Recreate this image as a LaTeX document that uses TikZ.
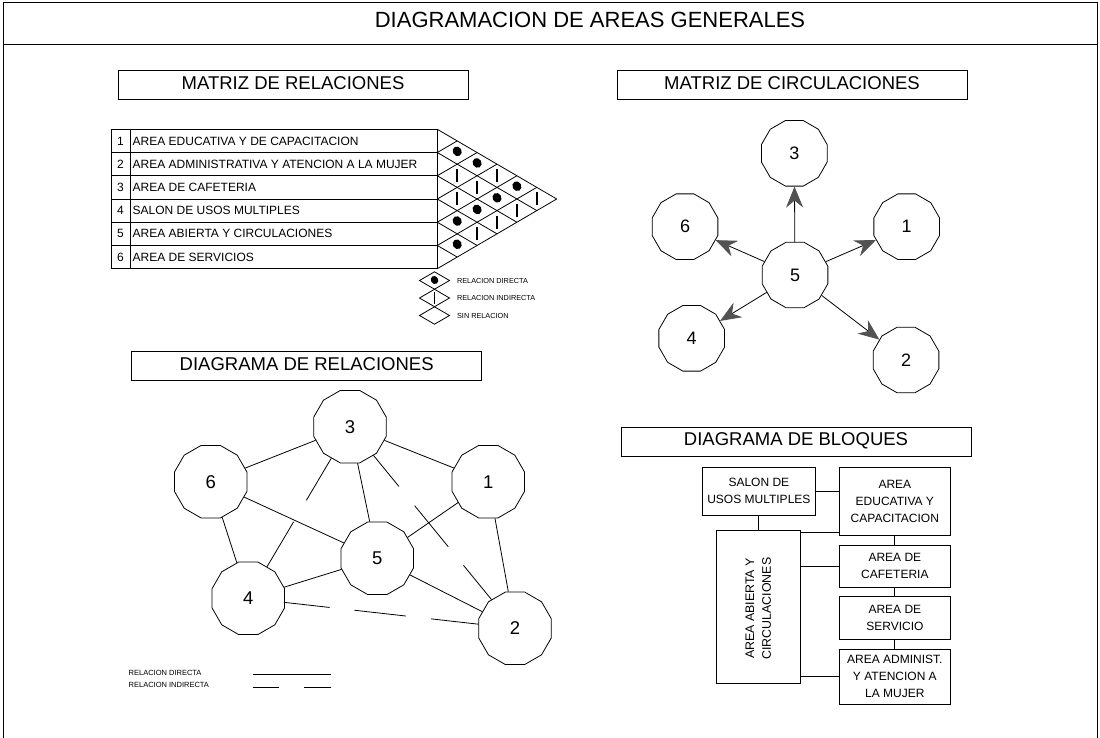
\documentclass[tikz,border=0pt]{standalone}
\usepackage{fontspec}
\setmainfont{Liberation Sans}
\usetikzlibrary{shapes.geometric,arrows.meta,calc}
\tikzset{
  subbox/.style={draw, line width=0.9pt, minimum width=350pt, minimum height=29pt, inner sep=0pt, text height=13.3pt, text depth=4.5pt, font=\fontsize{18.5}{20}\selectfont},
  relnode/.style={draw, regular polygon, regular polygon sides=12, minimum size=75pt, inner sep=0pt, line width=0.8pt, font=\fontsize{18.5}{20}\selectfont},
  circnode/.style={draw, regular polygon, regular polygon sides=12, minimum size=68pt, inner sep=0pt, line width=0.8pt, font=\fontsize{18}{20}\selectfont},
  tabtxt/.style={inner sep=0pt, font=\fontsize{12}{14}\selectfont},
  blk/.style={draw, line width=0.9pt, inner sep=0pt, align=center, font=\fontsize{12}{17}\selectfont},
  legtxt/.style={inner sep=0pt, anchor=west, font=\fontsize{7.3}{8}\selectfont},
  circarrow/.style={line width=0.8pt, -{Stealth[length=21pt, width=17pt, inset=7pt, fill=black!68, color=black!68]}},
  dotsym/.style={fill=black},
  barsym/.style={line width=2.2pt}
}
\begin{document}
\begin{tikzpicture}[x=1pt, y=-1pt, line width=0.8pt]
\useasboundingbox (0,0) rectangle (1100,738);
% frame and title band
\draw[line width=1pt] (3,738) -- (3,3) -- (1097,3) -- (1097,738);
\draw[line width=1pt] (3,44.3) -- (1097,44.3);
\node[inner sep=0pt, font=\fontsize{22}{24}\selectfont] (title) at (590,20) {DIAGRAMACION DE AREAS GENERALES};

% section headers
\node[subbox] (hmr) at (293,85) {MATRIZ DE RELACIONES};
\node[subbox] (hmc) at (792,85) {MATRIZ DE CIRCULACIONES};
\node[subbox] (hdr) at (306.7,365.8) {DIAGRAMA DE RELACIONES};
\node[subbox] (hdb) at (796,441.5) {DIAGRAMA DE BLOQUES};

% ---------- matriz de relaciones ----------
\draw (111,129.3) rectangle (437.3,268.7);
\draw (130,129.3) -- (130,268.7);
\foreach \k in {1,...,5} \draw (111,{129.3+\k*23.23}) -- (437.3,{129.3+\k*23.23});
\foreach \n/\t in {1/{AREA EDUCATIVA Y DE CAPACITACION},2/{AREA ADMINISTRATIVA Y ATENCION A LA MUJER},3/{AREA DE CAFETERIA},4/{SALON DE USOS MULTIPLES},5/{AREA ABIERTA Y CIRCULACIONES},6/{AREA DE SERVICIOS}}{
  \pgfmathsetmacro\yy{129.3+(\n-0.5)*23.23}
  \node[tabtxt] (num\n) at (120.5,\yy) {\n};
  \node[tabtxt, anchor=west] (lab\n) at (132.3,\yy) {\t};
}
% triangle grid
\foreach \k in {0,...,5} \draw (437.3,{129.3+\k*23.23}) -- ({437.3+(6-\k)*19.9},{129.3+(6+\k)/2*23.23});
\foreach \k in {1,...,6} \draw (437.3,{129.3+\k*23.23}) -- ({437.3+\k*19.9},{129.3+\k/2*23.23});
% symbols
\foreach \i/\j in {1/2,1/3,4/5,5/6,3/5,2/5,1/5}{
  \pgfmathsetmacro\cx{437.3+(\j-\i)*19.9}
  \pgfmathsetmacro\cy{129.3+(\i+\j-1)*11.615-1.2}
  \fill[dotsym, rotate around={30:(\cx,\cy)}] (\cx,\cy) ellipse [x radius=4.4pt, y radius=5pt];
}
\foreach \i/\j in {2/3,3/4,2/4,4/6,1/4,3/6,2/6,1/6}{
  \pgfmathsetmacro\cx{437.3+(\j-\i)*19.9}
  \pgfmathsetmacro\cy{129.3+(\i+\j-1)*11.615}
  \draw[barsym] (\cx,{\cy-6.5}) -- (\cx,{\cy+6.5});
}
% legend of matrix
\foreach \c/\yy in {a/280.5,b/298,c/315.5}{
  \draw (419.5,\yy) -- (434.5,{\yy-8.7}) -- (449.5,\yy) -- (434.5,{\yy+8.7}) -- cycle;
}
\fill[dotsym, rotate around={30:(434.5,280)}] (434.5,280) ellipse [x radius=3.6pt, y radius=4.2pt];
\draw[line width=1.2pt] (434.5,291.5) -- (434.5,303.5);
\node[legtxt] (lmd) at (456.7,280.5) {RELACION DIRECTA};
\node[legtxt] (lmi) at (456.7,298) {RELACION INDIRECTA};
\node[legtxt] (lms) at (456.7,315.5) {SIN RELACION};

% ---------- matriz de circulaciones ----------
\node[circnode] (m3) at (794.3,153.3) {3};
\node[circnode] (m6) at (685,226.7) {6};
\node[circnode] (m1) at (906.7,226.7) {1};
\node[circnode] (m5) at (795,275) {5};
\node[circnode] (m4) at (691.7,338.3) {4};
\node[circnode] (m2) at (906,360) {2};
\foreach \t in {3,6,1,4,2} \draw[circarrow] (m5) -- (m\t);

% ---------- diagrama de relaciones ----------
\node[relnode] (r3) at (350,426.7) {3};
\node[relnode] (r6) at (210.7,481.7) {6};
\node[relnode] (r1) at (488.3,481.7) {1};
\node[relnode] (r5) at (377.3,558.3) {5};
\node[relnode] (r4) at (248.3,598.3) {4};
\node[relnode] (r2) at (515,628.3) {2};
\foreach \a/\b in {3/6,3/1,3/5,6/5,6/4,4/5,5/1,5/2,1/2} \draw (r\a) -- (r\b);
\draw[dash pattern=on 49pt off 25pt on 60pt] (r3) -- (r4);
\draw[dash pattern=on 40pt off 25pt on 53pt off 24pt on 60pt] (r3) -- (r2);
\draw[dash pattern=on 45pt off 25pt on 52pt off 25pt on 60pt] (r4) -- (r2);
% legend
\node[legtxt, font=\fontsize{7.5}{8}\selectfont] (lrd) at (128.3,673.3) {RELACION DIRECTA};
\node[legtxt, font=\fontsize{7.5}{8}\selectfont] (lri) at (128.3,685.3) {RELACION INDIRECTA};
\draw (252.7,674.3) -- (330.7,674.3);
\draw[dash pattern=on 26.3pt off 25.4pt] (252.7,687.3) -- (330.7,687.3);

% ---------- diagrama de bloques ----------
\node[blk, minimum width=112.3pt, minimum height=47.7pt] (salon) at (758.85,491.15) {SALON DE\\USOS MULTIPLES};
\node[blk, minimum width=111.7pt, minimum height=67.7pt] (edu) at (894.85,501.15) {AREA\\EDUCATIVA Y\\CAPACITACION};
\node[blk, minimum width=111.7pt, minimum height=42.3pt] (cafe) at (894.85,566.15) {AREA DE\\CAFETERIA};
\node[blk, minimum width=111.7pt, minimum height=42.3pt] (serv) at (894.85,617.85) {AREA DE\\SERVICIO};
\node[blk, minimum width=111.7pt, minimum height=54.7pt] (adm) at (894.85,676.65) {AREA ADMINIST.\\Y ATENCION A\\LA MUJER};
\node[blk, minimum width=83.3pt, minimum height=153.3pt] (big) at (758.35,606.65) {};
\node[inner sep=0pt, rotate=90, align=center, font=\fontsize{12.4}{16.7}\selectfont] (bigtxt) at (758.35,608.5) {AREA ABIERTA Y\\CIRCULACIONES};
\draw (salon.east) -- (salon.east -| edu.west);
\draw (salon.south) -- (salon.south |- big.north);
\draw (big.east |- 0,532.7) -- (edu.west |- 0,532.7);
\draw (edu.south) -- (cafe.north);
\draw (big.east |- cafe.west) -- (cafe.west);
\draw (cafe.south) -- (serv.north);
\draw (serv.south) -- (adm.north);
\draw (big.east |- adm.west) -- (adm.west);
\end{tikzpicture}
\end{document}
